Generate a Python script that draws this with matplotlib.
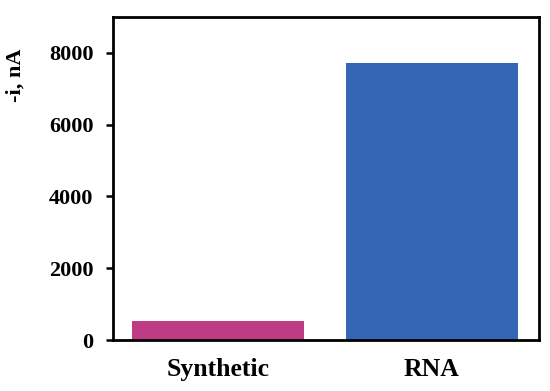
import matplotlib
matplotlib.use("Agg")
import matplotlib.pyplot as plt

# Data
categories = ["Synthetic", "RNA"]
current_na = [540, 7720]
bar_colors = ["#BE3C84", "#3566B5"]
y_ticks = [0, 2000, 4000, 6000, 8000]

plt.rcParams['font.family'] = ['Liberation Serif', 'DejaVu Serif']
plt.rcParams['font.weight'] = 'bold'

fig = plt.figure(figsize=(5.5, 3.91), dpi=100)
ax = fig.add_axes([113 / 550, 1 - 340 / 391, 426 / 550, 323 / 391])

ax.bar(range(len(categories)), current_na, width=0.8, color=bar_colors)

ax.set_xlim(-0.49, 1.5)
ax.set_ylim(0, 9000)
ax.set_xticks(range(len(categories)))
ax.set_xticklabels(categories, fontsize=18.5, fontweight='bold')
ax.set_yticks(y_ticks)
ax.set_yticklabels([str(t) for t in y_ticks], fontsize=16, fontweight='bold')
ax.tick_params(axis='x', length=0, pad=13)
ax.tick_params(axis='y', direction='out', length=5, width=1.8, pad=9)
ax.set_ylabel("-i, nA", fontsize=16, fontweight='bold')
ax.yaxis.set_label_coords(-0.205, 0.82)

for side in ax.spines.values():
    side.set_linewidth(2)

fig.savefig("out.png", dpi=100)
